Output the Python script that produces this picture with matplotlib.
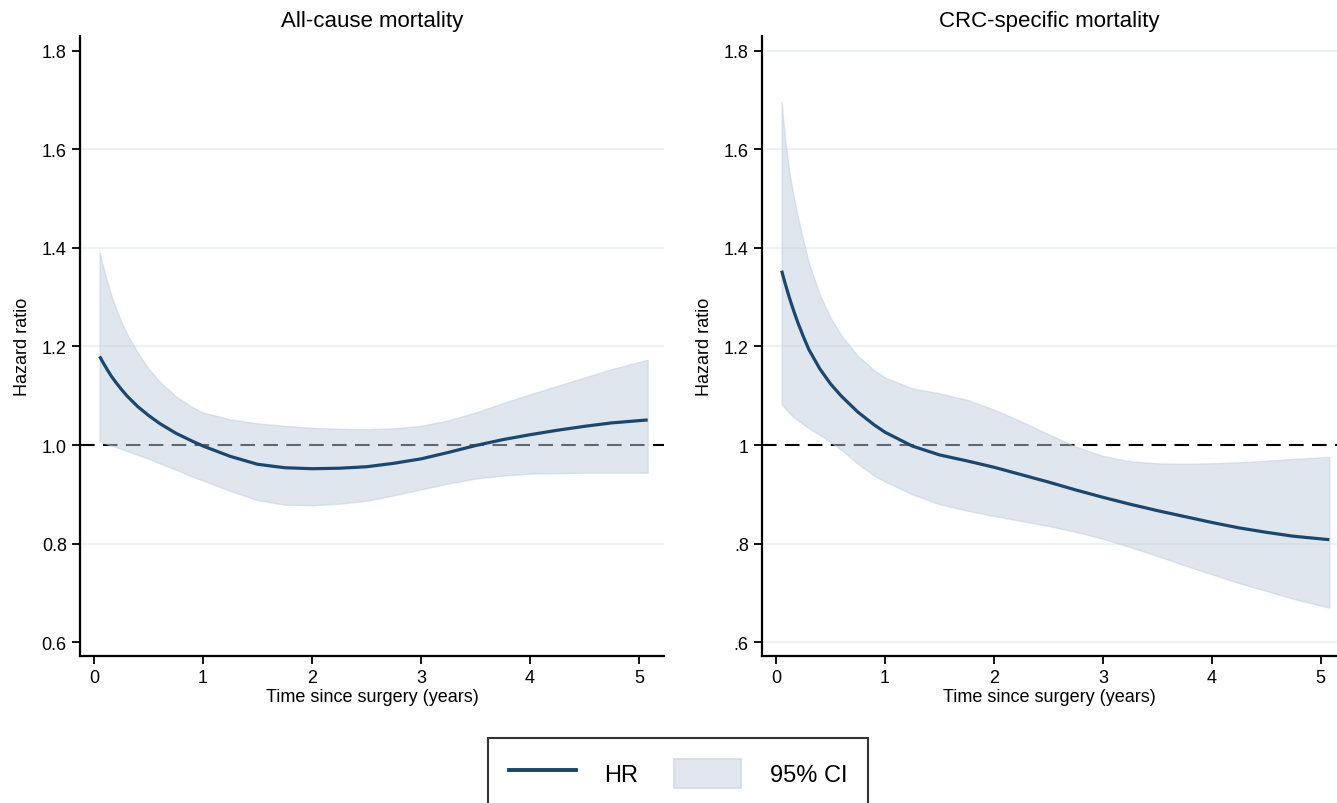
import matplotlib
matplotlib.use("Agg")
import matplotlib.pyplot as plt
from matplotlib.lines import Line2D
from matplotlib.patches import Patch

plt.rcParams['font.family'] = ['Liberation Sans', 'DejaVu Sans']

# time points (years since surgery), shared by both panels
x_time = [0.05, 0.08, 0.12, 0.16, 0.2, 0.25, 0.3, 0.4, 0.5, 0.6, 0.75, 0.9, 1.0,
          1.25, 1.5, 1.75, 2.0, 2.25, 2.5, 2.75, 3.0, 3.25, 3.5, 3.75, 4.0, 4.25,
          4.5, 4.75, 5.08]

# All-cause mortality
hr_all = [1.18, 1.168, 1.153, 1.139, 1.127, 1.113, 1.1, 1.078, 1.06, 1.044, 1.024, 1.008, 0.998,
          0.977, 0.961, 0.954, 0.952, 0.953, 0.956, 0.963, 0.972, 0.985, 0.999, 1.011, 1.021, 1.030,
          1.038, 1.045, 1.051]
lo_all = [1.008, 1.005, 1.002, 0.999, 0.996, 0.992, 0.988, 0.98, 0.972, 0.963, 0.95, 0.936, 0.928,
          0.907, 0.888, 0.879, 0.878, 0.881, 0.887, 0.898, 0.91, 0.922, 0.932, 0.938, 0.942, 0.943,
          0.944, 0.944, 0.944]
hi_all = [1.392, 1.364, 1.331, 1.302, 1.277, 1.25, 1.226, 1.187, 1.155, 1.129, 1.099, 1.077, 1.066,
          1.052, 1.044, 1.039, 1.035, 1.033, 1.032, 1.034, 1.039, 1.05, 1.066, 1.085, 1.103, 1.12,
          1.137, 1.154, 1.173]

# CRC-specific mortality
hr_crc = [1.354, 1.33, 1.30, 1.273, 1.248, 1.22, 1.194, 1.155, 1.124, 1.099, 1.067, 1.041, 1.026,
          0.998, 0.98, 0.968, 0.955, 0.94, 0.925, 0.909, 0.894, 0.88, 0.867, 0.855, 0.843, 0.832,
          0.823, 0.815, 0.808]
lo_crc = [1.083, 1.075, 1.065, 1.057, 1.05, 1.042, 1.034, 1.021, 1.006, 0.99, 0.962, 0.938, 0.926,
          0.9, 0.88, 0.867, 0.856, 0.846, 0.836, 0.824, 0.81, 0.793, 0.775, 0.756, 0.738, 0.72,
          0.704, 0.688, 0.670]
hi_crc = [1.696, 1.625, 1.555, 1.505, 1.462, 1.414, 1.37, 1.305, 1.258, 1.222, 1.181, 1.152, 1.137,
          1.115, 1.105, 1.092, 1.072, 1.048, 1.022, 0.997, 0.978, 0.967, 0.963, 0.962, 0.963, 0.965,
          0.968, 0.972, 0.976]

yticks = [0.6, 0.8, 1.0, 1.2, 1.4, 1.6, 1.8]
xticks = [0, 1, 2, 3, 4, 5]

navy = '#1a476f'
band = '#c1cfdd'
grid_c = '#eaf0f5'

fig = plt.figure(figsize=(13.37, 8.04), dpi=100)
W, H = 1337, 804
ax1 = fig.add_axes([80 / W, 1 - 657 / H, (664 - 80) / W, (657 - 37) / H])
ax2 = fig.add_axes([762 / W, 1 - 657 / H, (1337 - 762) / W, (657 - 37) / H])

panels = [
    (ax1, hr_all, lo_all, hi_all, 'All-cause mortality',
     ['0.6', '0.8', '1.0', '1.2', '1.4', '1.6', '1.8'], [0.8, 1.2, 1.4, 1.6], 5.23),
    (ax2, hr_crc, lo_crc, hi_crc, 'CRC-specific mortality',
     ['.6', '.8', '1', '1.2', '1.4', '1.6', '1.8'], [0.6, 0.8, 1.2, 1.4, 1.6, 1.8], 5.15),
]

for ax, hr, lo, hi, title, ylabels, grids, xmax in panels:
    for g in grids:
        ax.axhline(g, color=grid_c, lw=1.3, zorder=0)
    ax.axhline(1.0, color='black', lw=1.5, dashes=(7, 4), zorder=1)
    ax.fill_between(x_time, lo, hi, facecolor=band, edgecolor=band, alpha=0.5, lw=1.0, zorder=2)
    ax.plot(x_time, hr, color=navy, lw=2.3, zorder=3, solid_capstyle='butt')
    ax.set_xlim(-0.13, xmax)
    ax.set_ylim(0.572, 1.83)
    ax.set_yticks(yticks)
    ax.set_yticklabels(ylabels)
    ax.set_xticks(xticks)
    ax.tick_params(axis='both', direction='out', length=5.5, width=1.3, labelsize=13, pad=4)
    for s in ('top', 'right'):
        ax.spines[s].set_visible(False)
    for s in ('left', 'bottom'):
        ax.spines[s].set_linewidth(1.6)
    ax.set_title(title, fontsize=16, pad=7)
    ax.set_xlabel('Time since surgery (years)', fontsize=13, labelpad=1)
    ax.set_ylabel('Hazard ratio', fontsize=13, labelpad=8)

handles = [Line2D([], [], color=navy, lw=2.8),
           Patch(facecolor='#e0e7ee', edgecolor='#d3dce5', lw=1.2)]
leg = fig.legend(handles, ['HR', '95% CI'], ncol=2, loc='upper center',
                 bbox_to_anchor=(678 / W, 1 - 739 / H), frameon=True, fancybox=False,
                 edgecolor='black', fontsize=17, handlelength=2.85, handleheight=1.5,
                 handletextpad=1.2, columnspacing=1.5, borderpad=0.9, borderaxespad=0)
leg.get_frame().set_linewidth(1.5)

fig.savefig('out.png', dpi=100)
